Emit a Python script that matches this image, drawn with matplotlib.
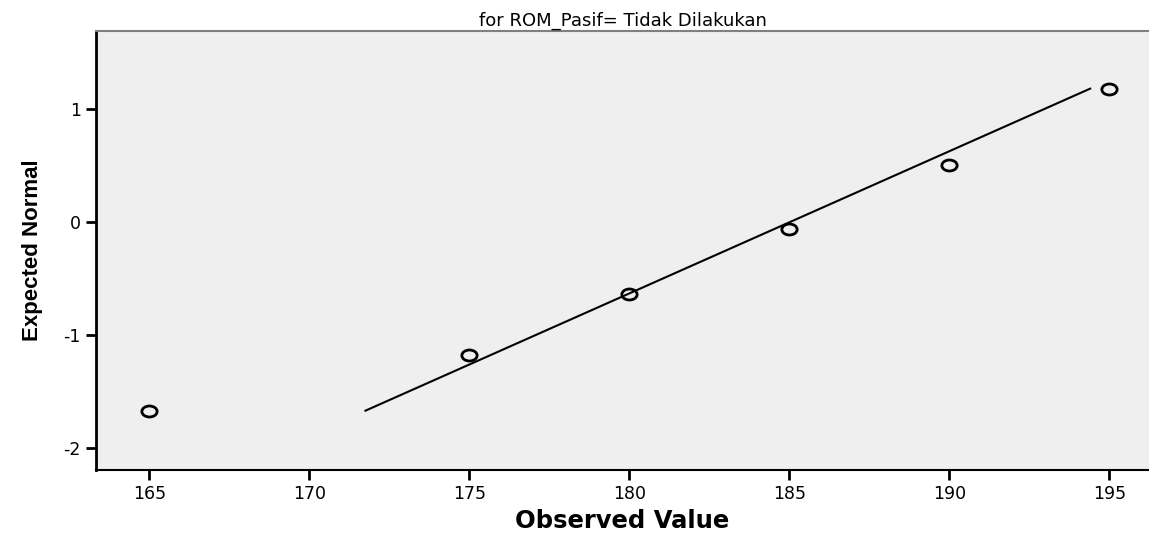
import matplotlib
matplotlib.use("Agg")
import matplotlib.pyplot as plt
from matplotlib.path import Path
from matplotlib import font_manager

observed = [165, 175, 180, 185, 190, 195]
expected = [-1.67, -1.18, -0.64, -0.06, 0.50, 1.18]
line_x = [171.75, 194.4]
line_y = [-1.67, 1.18]
x_ticks = [165, 170, 175, 180, 185, 190, 195]
y_ticks = [-2, -1, 0, 1]

names = {f.name for f in font_manager.fontManager.ttflist}
narrow = "Liberation Sans Narrow" if "Liberation Sans Narrow" in names else "Liberation Sans"

# the SPSS export has horizontally stretched text; the wider DejaVu face matches better
plt.rcParams["font.family"] = ["DejaVu Sans"]
plt.rcParams["axes.unicode_minus"] = False

# elliptical open marker like SPSS
circ = Path.unit_circle()
ell = Path(circ.vertices * [1.0, 0.72], circ.codes)

fig = plt.figure(figsize=(11.49, 5.35), dpi=100)
ax = fig.add_axes([0.0836, 0.1215, 0.9164, 0.8205])
ax.set_facecolor("#efefef")

ax.plot(line_x, line_y, color="black", lw=1.5)
ax.plot(observed, expected, linestyle="none", marker=ell, markersize=11,
        markerfacecolor="none", markeredgecolor="black", markeredgewidth=2.0)

ax.set_xlim(163.33, 196.24)
ax.set_ylim(-2.195, 1.69)
ax.set_xticks(x_ticks)
ax.set_yticks(y_ticks)
ax.tick_params(direction="out", length=7, width=2, labelsize=12.5, pad=4)

ax.spines["right"].set_visible(False)
ax.spines["top"].set_color("#808080")
ax.spines["top"].set_linewidth(1.5)
ax.spines["left"].set_linewidth(2)
ax.spines["bottom"].set_linewidth(1.5)

ax.set_xlabel("Observed Value", fontsize=17.5, fontweight="bold", labelpad=4)
ax.set_ylabel("Expected Normal", fontsize=16, fontweight="bold", family=[narrow, "DejaVu Sans"], labelpad=15)
ax.set_title("for ROM_Pasif= Tidak Dilakukan", fontsize=13, pad=4)

fig.savefig("out.png", dpi=100)
